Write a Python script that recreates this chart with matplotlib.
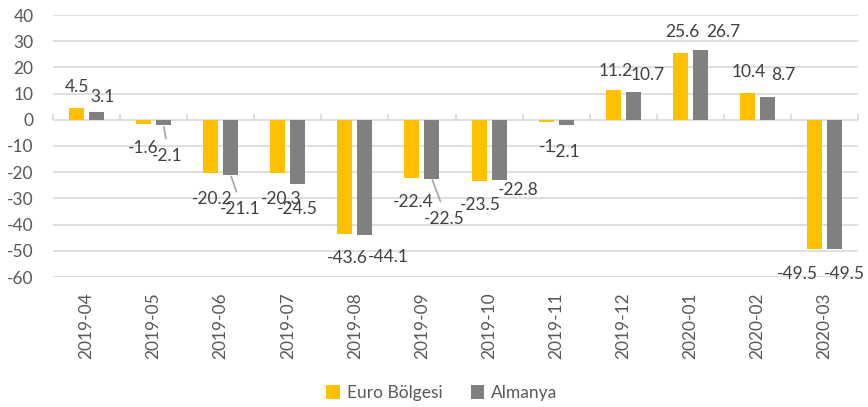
import matplotlib
matplotlib.use("Agg")
import matplotlib.pyplot as plt
import numpy as np

plt.rcParams['font.family'] = ['Lato', 'DejaVu Sans']

categories = ["2019-04", "2019-05", "2019-06", "2019-07", "2019-08", "2019-09",
              "2019-10", "2019-11", "2019-12", "2020-01", "2020-02", "2020-03"]
euro = [4.5, -1.6, -20.2, -20.3, -43.6, -22.4, -23.5, -1, 11.2, 25.6, 10.4, -49.5]
almanya = [3.1, -2.1, -21.1, -24.5, -44.1, -22.5, -22.8, -2.1, 10.7, 26.7, 8.7, -49.5]
series_names = ["Euro Bölgesi", "Almanya"]
yticks = [40, 30, 20, 10, 0, -10, -20, -30, -40, -50, -60]

# label offsets (pixels, dx right, dy down) relative to bar end
euro_off = [(0, -21), (0, 24), (1, 26), (3, 26), (2, 24), (1, 24), (1, 24), (1, 25),
            (2, -19), (2, -21), (1, -21), (-17, 25)]
gray_off = [(6, -15), (4, 31), (9, 34), (0, 25), (23, 22), (12, 40), (19, 10), (-1, 27),
            (15, -17), (23, -18), (16, -22), (10, 25)]
leaders = {1, 2, 5}

YELLOW = "#FFC000"
GRAY = "#808080"
TXT = "#404040"
AX_TXT = "#595959"
GRID = "#D9D9D9"
FS = 12.5

fig = plt.figure(figsize=(8.68, 4.07), dpi=100)
ax = fig.add_axes([53/868, 1-277/407, (858-53)/868, (277-15)/407])

idx = np.arange(len(categories))
off = 0.149
w = 0.224
ax.bar(idx - off, euro, width=w, color=YELLOW, label=series_names[0], zorder=3)
ax.bar(idx + off, almanya, width=w, color=GRAY, label=series_names[1], zorder=3)

ax.set_xlim(-0.5, len(categories) - 0.5)
ax.set_ylim(-60, 40)
ax.set_yticks(yticks)
ax.set_yticklabels([str(t) for t in yticks], fontsize=FS, color=AX_TXT)
ax.yaxis.grid(True, color=GRID, lw=1.2, zorder=0)
ax.set_axisbelow(True)
ax.tick_params(axis='y', length=0, pad=14)
ax.set_xticks(idx)
ax.set_xticklabels(categories, rotation=90, fontsize=FS, color=AX_TXT)
ax.tick_params(axis='x', length=0, pad=11)
for s in ax.spines.values():
    s.set_visible(False)

# zero-line axis with boundary ticks
sec = ax.secondary_xaxis(0.6)
sec.set_xticks(np.arange(len(categories) + 1) - 0.5)
sec.set_xticklabels([])
sec.tick_params(axis='x', direction='out', length=4, color=GRID, width=1.2)
sec.spines['bottom'].set_color(GRID)
sec.spines['bottom'].set_linewidth(1.2)
for k in ['top', 'left', 'right']:
    sec.spines[k].set_visible(False)

def fmt(v):
    return f"{v:g}"

for i in idx:
    v = almanya[i]
    dx, dy = gray_off[i]
    kw = {}
    if i in leaders:
        kw['arrowprops'] = dict(arrowstyle='-', color='#A6A6A6', lw=1.2,
                                shrinkA=5, shrinkB=1, relpos=(0.5, 1.0))
    ax.annotate(fmt(v), xy=(i + off, v), xytext=(dx, -dy), textcoords='offset pixels',
                ha='center', va='center', fontsize=FS, color=TXT, zorder=5, **kw)
for i in idx:
    v = euro[i]
    dx, dy = euro_off[i]
    ax.annotate(fmt(v), xy=(i - off, v), xytext=(dx, -dy), textcoords='offset pixels',
                ha='center', va='center', fontsize=FS, color=TXT, zorder=5)

fig.legend(loc='center', bbox_to_anchor=(442/868, 1-393/407), ncol=2, frameon=False,
           fontsize=FS, handlelength=0.8, handleheight=0.8, handletextpad=0.4,
           columnspacing=1.6, labelcolor=AX_TXT)

fig.savefig("out.png", dpi=100)
